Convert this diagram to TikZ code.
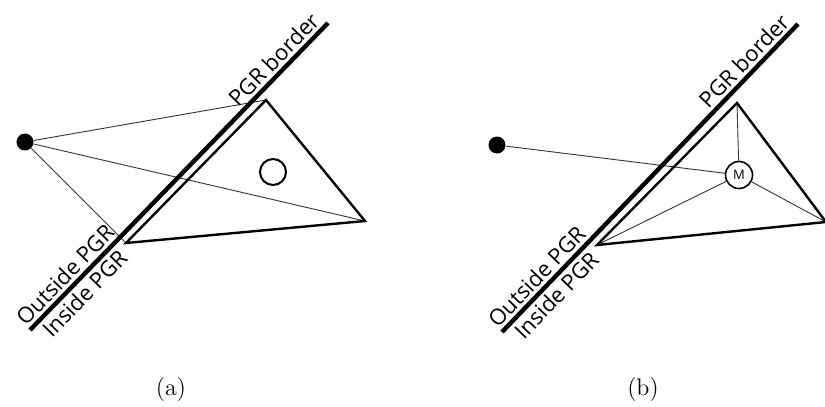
\documentclass[tikz,border=0pt]{standalone}
\usepackage{fontspec}
\newfontfamily\pgrfont{Open Sans}
\usetikzlibrary{positioning}

\begin{document}
\begin{tikzpicture}[
            x=0.5pt, y=-0.5pt,
            agent/.style={circle, fill=black, minimum size=8.5pt, inner sep=0pt},
            target/.style={circle, draw, fill=white, line width=0.8pt, minimum size=13pt, inner sep=0pt},
            border/.style={line width=2.2pt},
            region/.style={line width=1.2pt, line join=miter},
            ray/.style={line width=0.45pt, black!80},
            tag/.style={font=\pgrfont\fontsize{11}{13}\selectfont, inner sep=1.5pt},
            caption/.style={font=\large}
        ]
        \useasboundingbox (0,0) rectangle (825,407);

        % ======================================
        % Panel (a)
        % ======================================
        \coordinate (a-low) at (30,330);
        \coordinate (a-high) at (328,23);
        \coordinate (a-top) at (266,100);
        \coordinate (a-right) at (365,221);
        \coordinate (a-left) at (126,243);
        \node[agent] (a-agent) at (25,142) {};
        \node[target, line width=1pt] (a-goal) at (273,172) {};

        % rays from the agent
        \draw[ray] (a-agent) -- (a-top);
        \draw[ray] (a-agent) -- (a-right);
        \draw[ray] (a-agent) -- (a-left);

        % region and border
        \draw[region] (a-top) -- (a-right) -- (a-left) -- cycle;
        \draw[border] (a-low) -- (a-high)
        node[tag, sloped, above, pos=0.85] (a-name) {PGR border}
        node[tag, sloped, above, pos=0.15] (a-out) {Outside PGR}
        node[tag, sloped, below, pos=0.15] (a-in) {Inside PGR};

        \node[caption] (a-cap) at (171,390) {(a)};

        % ======================================
        % Panel (b)
        % ======================================
        \coordinate (b-low) at (502,332);
        \coordinate (b-high) at (798,24);
        \coordinate (b-top) at (737,103);
        \coordinate (b-right) at (826,222);
        \coordinate (b-left) at (597,245);
        \node[agent] (b-agent) at (497,145) {};
        \node[target, minimum size=13.5pt] (b-mid) at (739,175) {\pgrfont\fontsize{6.5}{7}\selectfont M};

        % rays through the middle point
        \draw[ray] (b-agent) -- (b-mid);
        \foreach \corner in {top,right,left}
        \draw[ray] (b-mid) -- (b-\corner);

        % region and border
        \draw[region] (b-top) -- (b-right) -- (b-left) -- cycle;
        \draw[border] (b-low) -- (b-high)
        node[tag, sloped, above, pos=0.85] (b-name) {PGR border}
        node[tag, sloped, above, pos=0.15] (b-out) {Outside PGR}
        node[tag, sloped, below, pos=0.15] (b-in) {Inside PGR};

        \node[caption] (b-cap) at (643,390) {(b)};

\end{tikzpicture}
\end{document}
